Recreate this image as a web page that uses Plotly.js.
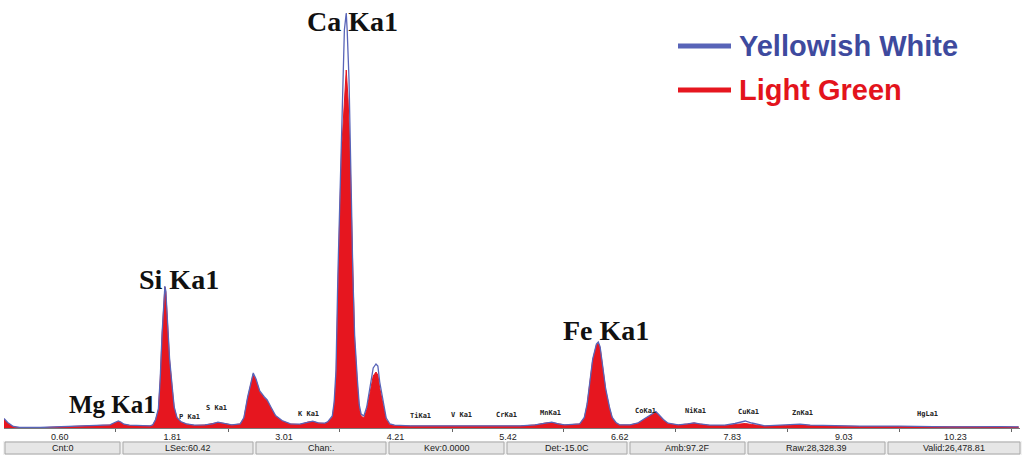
<!DOCTYPE html>
<html>
<head>
<meta charset="utf-8">
<script src="https://cdn.plot.ly/plotly-3.0.1.min.js"></script>
<style>html,body{margin:0;padding:0;background:#fff;}#chart{width:1023px;height:455px;}</style>
</head>
<body>
<div id="chart"></div>
<script>
// ---- Data (energy in keV, intensity in counts) ----
const lightGreenKeV = [0.00,0.04,0.10,0.17,0.39,0.62,0.82,1.03,1.14,1.19,1.23,1.26,1.29,1.35,1.46,1.57,1.60,1.63,1.66,1.68,1.70,1.72,1.73,1.74,1.76,1.78,1.81,1.83,1.86,1.90,1.96,2.05,2.16,2.24,2.30,2.37,2.45,2.54,2.58,2.62,2.66,2.68,2.71,2.75,2.80,2.83,2.87,2.92,2.99,3.08,3.18,3.27,3.32,3.38,3.45,3.48,3.53,3.55,3.57,3.59,3.61,3.63,3.66,3.68,3.70,3.72,3.74,3.75,3.77,3.80,3.82,3.84,3.87,3.90,3.94,3.97,4.00,4.02,4.04,4.08,4.11,4.15,4.20,4.37,4.69,5.01,5.33,5.55,5.71,5.82,5.89,5.96,6.03,6.19,6.24,6.27,6.30,6.33,6.37,6.39,6.41,6.44,6.47,6.51,6.54,6.58,6.62,6.73,6.82,6.89,6.97,7.01,7.04,7.09,7.14,7.25,7.35,7.42,7.48,7.59,7.75,7.86,7.97,8.04,8.18,8.40,8.56,8.67,8.88,9.20,9.63,10.17,10.71,10.91];
const lightGreenCounts = [90,50,10,3,3,10,15,20,30,50,65,55,35,25,20,20,30,80,180,480,930,1320,1410,1360,1030,680,380,200,100,60,40,25,30,40,55,45,30,40,100,300,480,540,480,360,300,270,200,120,70,40,35,60,65,50,45,60,110,230,480,1380,2130,2780,3280,3580,3280,2780,1980,1480,880,430,200,120,100,180,360,520,560,530,400,200,80,35,25,20,20,15,20,20,30,50,55,40,30,40,100,230,450,680,830,850,800,600,380,200,100,50,30,30,50,90,140,160,130,80,45,30,40,50,40,25,25,35,45,35,20,25,35,25,20,15,15,10,10,10];

const yellowishWhiteKeV = [0.00,0.04,0.10,0.17,0.39,0.62,0.82,1.03,1.14,1.19,1.23,1.26,1.29,1.35,1.46,1.57,1.60,1.63,1.66,1.68,1.70,1.72,1.73,1.74,1.76,1.78,1.81,1.83,1.86,1.90,1.96,2.05,2.16,2.24,2.30,2.37,2.45,2.54,2.58,2.62,2.66,2.68,2.71,2.75,2.80,2.83,2.87,2.92,2.99,3.08,3.18,3.27,3.32,3.38,3.45,3.48,3.53,3.55,3.57,3.59,3.61,3.63,3.65,3.66,3.68,3.69,3.71,3.72,3.74,3.75,3.77,3.80,3.82,3.84,3.87,3.90,3.94,3.97,4.00,4.02,4.04,4.08,4.11,4.15,4.20,4.37,4.69,5.01,5.33,5.55,5.71,5.82,5.89,5.96,6.03,6.19,6.24,6.27,6.30,6.33,6.37,6.39,6.41,6.44,6.47,6.51,6.54,6.58,6.62,6.73,6.82,6.89,6.97,7.01,7.04,7.09,7.14,7.25,7.35,7.42,7.48,7.59,7.75,7.86,7.97,8.04,8.18,8.40,8.56,8.67,8.88,9.20,9.63,10.17,10.71,10.91];
const yellowishWhiteCounts = [95,55,15,5,5,12,18,22,32,55,70,58,38,28,22,22,32,85,190,500,950,1340,1420,1370,1050,700,400,210,105,65,42,28,32,42,58,48,32,42,105,310,490,550,490,370,310,280,210,125,75,42,38,62,68,52,48,62,120,260,580,1530,2230,2880,3480,3980,4150,3980,3480,2880,2080,1580,930,480,230,140,120,210,420,600,640,620,460,230,100,40,28,22,22,18,22,22,32,52,58,42,32,42,105,240,460,690,840,860,810,610,390,210,105,55,32,32,52,95,145,165,135,85,48,32,42,52,42,28,28,45,70,50,22,28,38,28,22,18,18,12,14,12];

const tickLabels = ["0.60","1.81","3.01","4.21","5.42","6.62","7.83","9.03","10.23"];
const tickPositions = [0.60,1.81,3.01,4.21,5.42,6.62,7.83,9.03,10.23];
const minorTickPositions = [1.20,2.41,3.61,4.82,6.02,7.22,8.43,9.63,10.83];

const majorLines = ["Ca Ka1","Si Ka1","Fe Ka1","Mg Ka1"];
const minorLines = ["P Ka1","S Ka1","K Ka1","TiKa1","V Ka1","CrKa1","MnKa1","CoKa1","NiKa1","CuKa1","ZnKa1","HgLa1"];
const statusFields = ["Cnt:0","LSec:60.42","Chan:.","Kev:0.0000","Det:-15.0C","Amb:97.2F","Raw:28,328.39","Valid:26,478.81"];
const seriesNames = ["Yellowish White","Light Green"];

// ---- Layout helpers (pixel -> paper) ----
const W = 1023, H = 455, ML = 4, MR = 3, MT = 0, MB = 27;
const PW = W - ML - MR, PH = H - MT - MB;
const px = x => (x - ML) / PW;
const py = y => (H - MB - y) / PH;

const RED = '#e6161f', BLUE = '#5864b8';

const traces = [
  {x: lightGreenKeV, y: lightGreenCounts, type: 'scatter', mode: 'lines', name: seriesNames[1],
   fill: 'tozeroy', fillcolor: RED, line: {color: RED, width: 1}},
  {x: yellowishWhiteKeV, y: yellowishWhiteCounts, type: 'scatter', mode: 'lines', name: seriesNames[0],
   line: {color: BLUE, width: 1.3}}
];

const annotations = [];
const shapes = [];

// Major element labels
const majorPos = [[352, 21], [179, 279], [606, 330], [112, 404]];
const majorSizes = [28, 28, 28, 25];
majorLines.forEach((t, i) => annotations.push({
  text: t, xref: 'paper', yref: 'paper', x: px(majorPos[i][0]), y: py(majorPos[i][1]),
  xanchor: 'center', yanchor: 'middle', showarrow: false,
  font: {family: 'Liberation Serif, Times New Roman, serif', size: majorSizes[i], color: '#111', weight: 'bold'}
}));

// Minor element labels
const minorPos = [[189,417],[216,408],[308,414],[420,416],[461,415],[506,415],[550,413],[645,411],[695,411],[748,412],[802,413],[927,414]];
minorLines.forEach((t, i) => annotations.push({
  text: t, xref: 'paper', yref: 'paper', x: px(minorPos[i][0]), y: py(minorPos[i][1]),
  xanchor: 'center', yanchor: 'middle', showarrow: false,
  font: {family: 'DejaVu Sans Mono, monospace', size: 7, color: '#222', weight: 'bold'}
}));

// Legend (drawn)
const legendColors = [BLUE, RED];
const legendTextColors = ['#3e4a9e', '#e3141c'];
const legendY = [46, 90];
seriesNames.forEach((n, i) => {
  shapes.push({type: 'line', xref: 'paper', yref: 'paper', x0: px(678), x1: px(731), y0: py(legendY[i]), y1: py(legendY[i]),
    line: {color: legendColors[i], width: 5}});
  annotations.push({text: n, xref: 'paper', yref: 'paper', x: px(737), y: py(legendY[i]),
    xanchor: 'left', yanchor: 'middle', showarrow: false,
    font: {family: 'Liberation Sans, Arial, sans-serif', size: 29, color: legendTextColors[i], weight: 'bold'}});
});

// Status bar
const cells = [[5,120],[123,253],[256,386],[389,504],[507,627],[630,745],[748,885],[888,1020]];
shapes.push({type: 'rect', xref: 'paper', yref: 'paper', x0: px(3), x1: px(1022), y0: py(441), y1: py(455),
  fillcolor: '#f2f2f2', line: {width: 0}, layer: 'below'});
cells.forEach((c, i) => {
  shapes.push({type: 'rect', xref: 'paper', yref: 'paper', x0: px(c[0]), x1: px(c[1]), y0: py(442), y1: py(454),
    fillcolor: '#e6e6e6', line: {color: '#a8a8a8', width: 1}});
  annotations.push({text: statusFields[i], xref: 'paper', yref: 'paper', x: px((c[0] + c[1]) / 2), y: py(448),
    xanchor: 'center', yanchor: 'middle', showarrow: false,
    font: {family: 'Liberation Sans, Arial, sans-serif', size: 9, color: '#222'}});
});

const layout = {
  width: W, height: H,
  margin: {l: ML, r: MR, t: MT, b: MB, pad: 0},
  paper_bgcolor: '#fff', plot_bgcolor: '#fff',
  showlegend: false,
  xaxis: {
    range: [0, PW / 93], showgrid: false, zeroline: false,
    showline: true, linecolor: '#7a7a7a', linewidth: 1,
    tickmode: 'array', tickvals: tickPositions, ticktext: tickLabels, ticks: '',
    tickfont: {family: 'Liberation Sans, Arial, sans-serif', size: 9, color: '#222'},
    minor: {tickmode: 'array', tickvals: minorTickPositions, ticks: 'outside', ticklen: 3, tickcolor: '#666', showgrid: false},
    fixedrange: true
  },
  yaxis: {range: [0, 4280], visible: false, fixedrange: true},
  annotations: annotations,
  shapes: shapes
};

Plotly.newPlot('chart', traces, layout, {displayModeBar: false, staticPlot: true});
</script>
</body>
</html>
